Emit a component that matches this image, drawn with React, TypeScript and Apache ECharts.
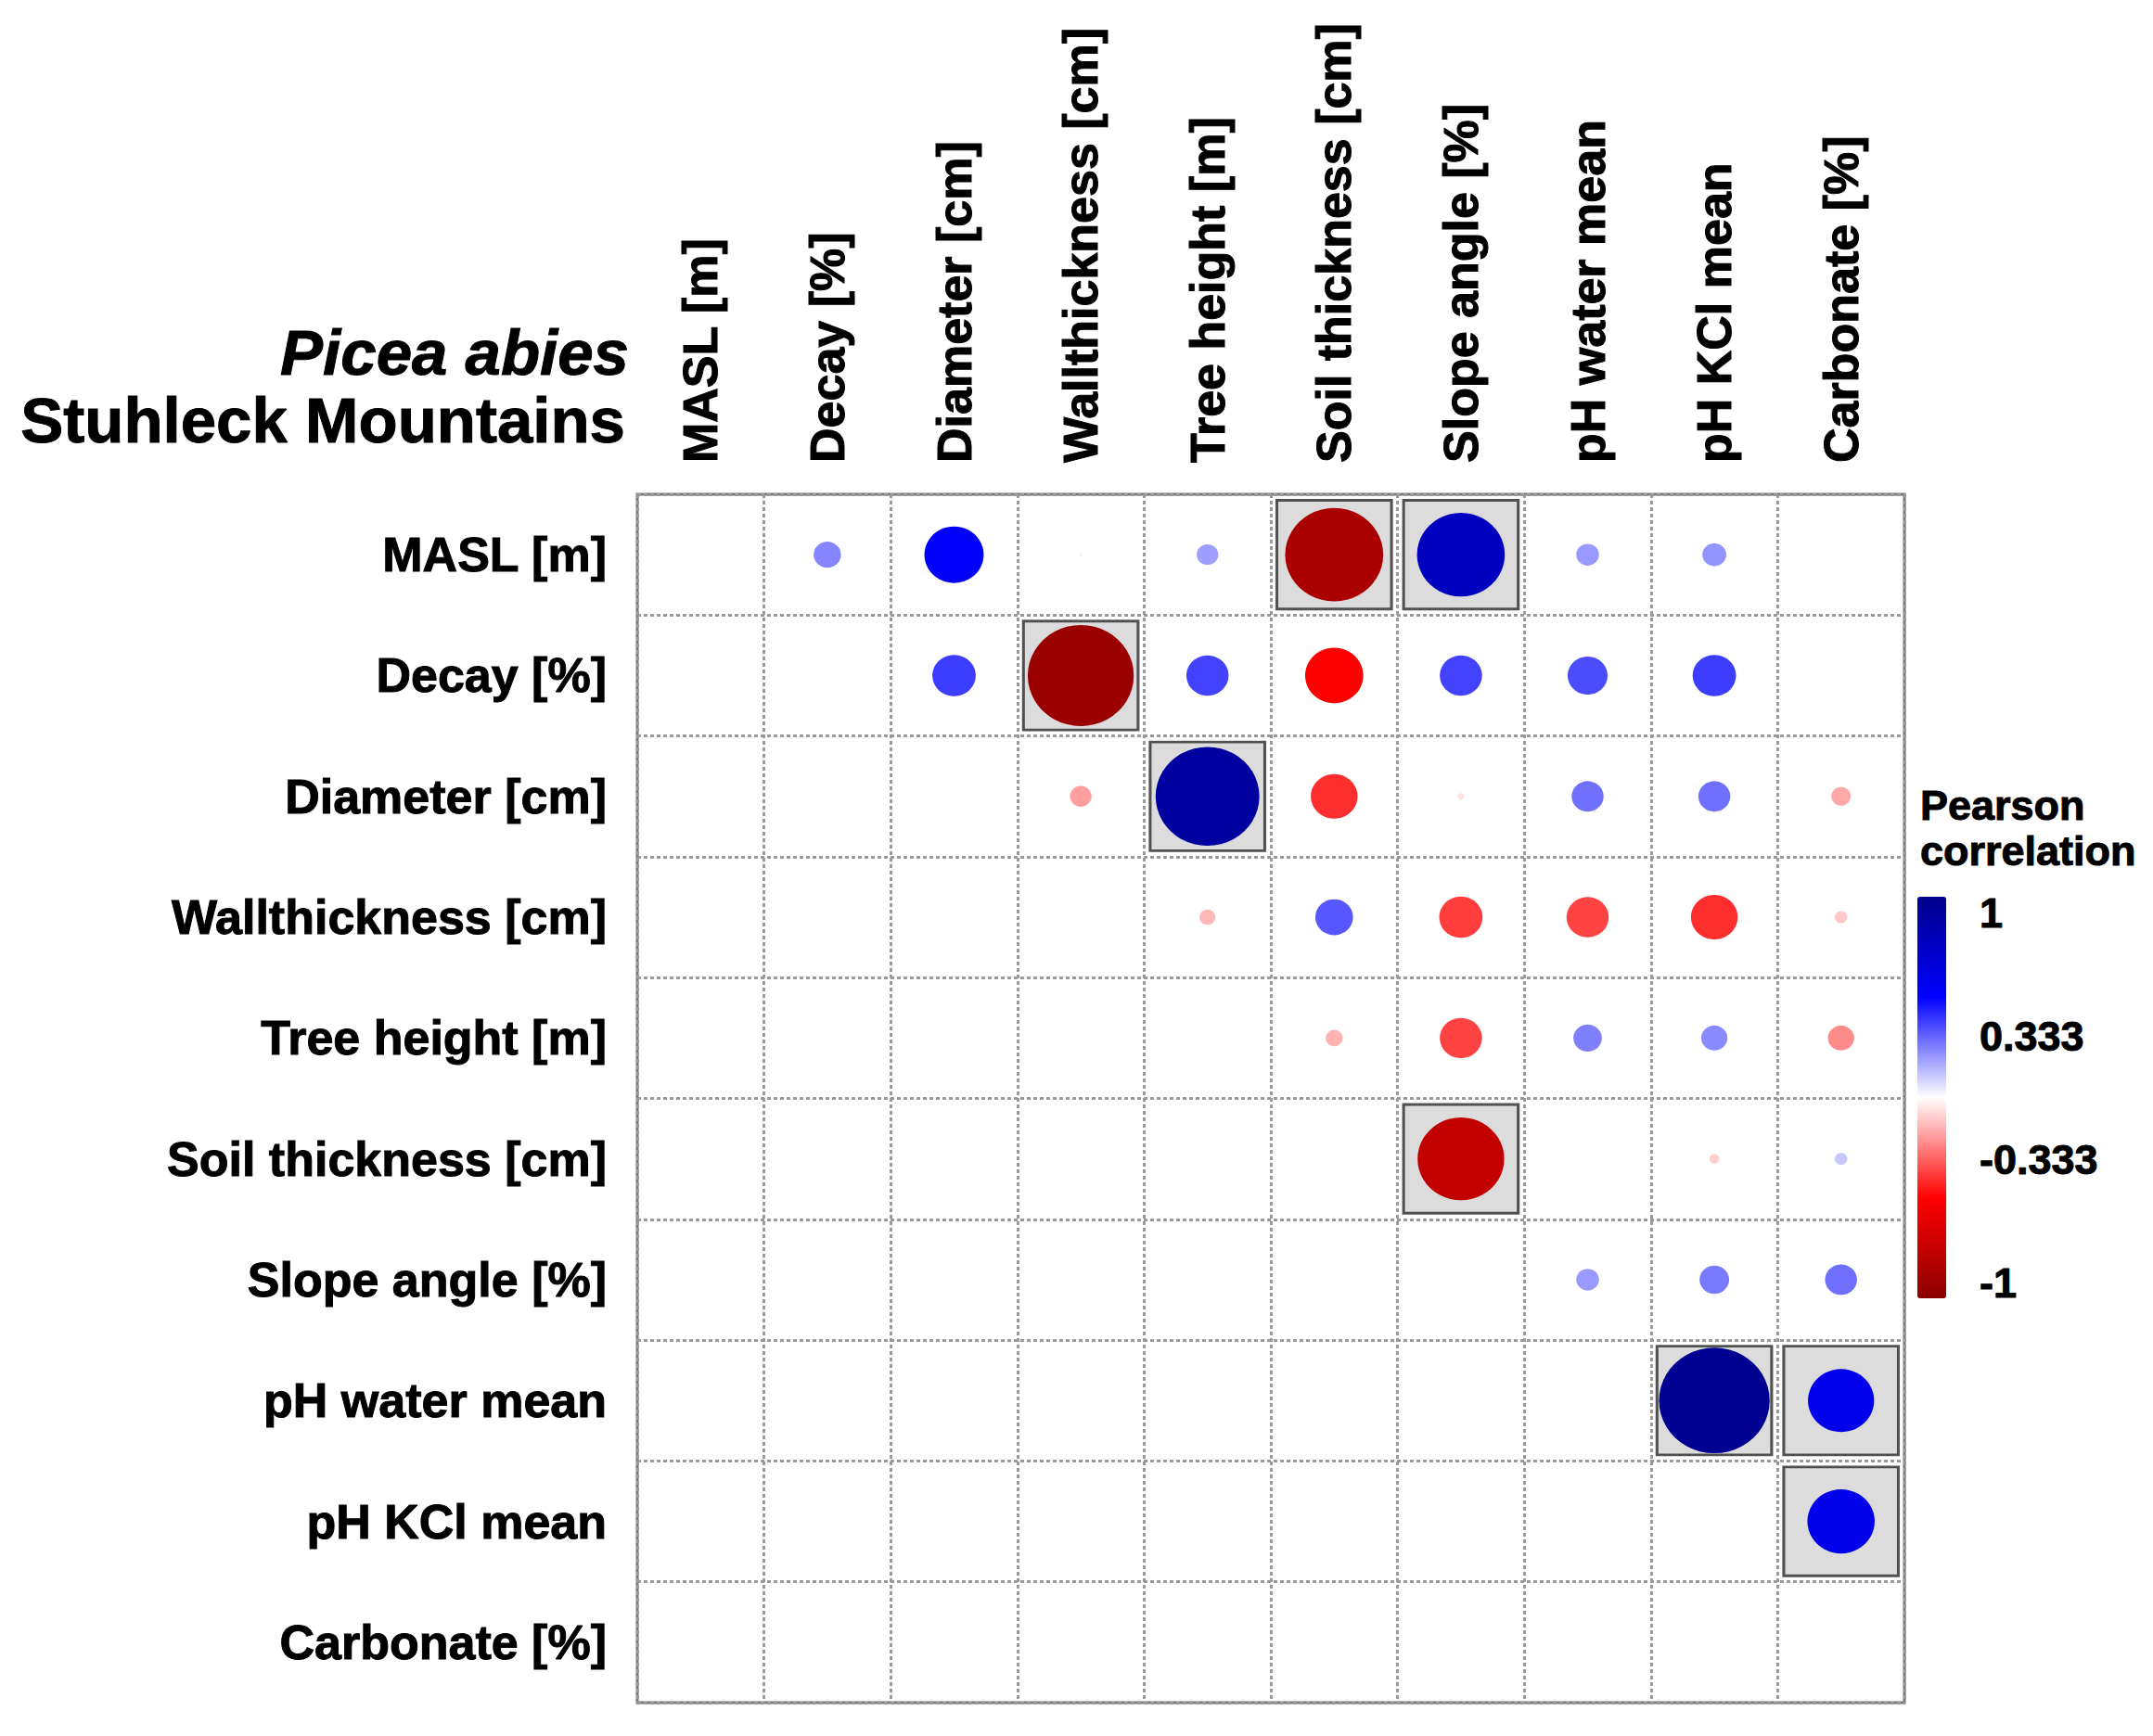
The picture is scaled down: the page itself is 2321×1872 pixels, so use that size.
import React, { useEffect, useRef } from 'react';
import * as echarts from 'echarts';

// ---- Data ----
const variables = [
  'MASL [m]',
  'Decay [%]',
  'Diameter [cm]',
  'Wallthickness [cm]',
  'Tree height [m]',
  'Soil thickness [cm]',
  'Slope angle [%]',
  'pH water mean',
  'pH KCl mean',
  'Carbonate [%]',
];

// Upper-triangle Pearson correlations: each row lists values for the columns to its right
const corrMASL = [0.24, 0.52, -0.03, 0.19, -0.86, 0.77, 0.2, 0.21, 0.01];
const corrDecay = [0.38, -0.93, 0.37, -0.51, 0.37, 0.35, 0.38, 0.01];
const corrDiameter = [-0.19, 0.91, -0.41, -0.06, 0.28, 0.28, -0.17];
const corrWall = [-0.14, 0.33, -0.38, -0.37, -0.41, -0.11];
const corrTree = [-0.15, -0.37, 0.25, 0.23, -0.23];
const corrSoil = [-0.76, -0.01, -0.09, 0.11];
const corrSlope = [0.2, 0.26, 0.28];
const corrPHWater = [0.97, 0.58];
const corrPHKCl = [0.59];
const corrRows = [corrMASL, corrDecay, corrDiameter, corrWall, corrTree, corrSoil, corrSlope, corrPHWater, corrPHKCl];

// Highlighted (boxed) cells: [row, column]
const highlightedPairs = [
  ['MASL [m]', 'Soil thickness [cm]'],
  ['MASL [m]', 'Slope angle [%]'],
  ['Decay [%]', 'Wallthickness [cm]'],
  ['Diameter [cm]', 'Tree height [m]'],
  ['Soil thickness [cm]', 'Slope angle [%]'],
  ['pH water mean', 'pH KCl mean'],
  ['pH water mean', 'Carbonate [%]'],
  ['pH KCl mean', 'Carbonate [%]'],
];

const colorbarTicks = ['1', '0.333', '-0.333', '-1'];
const titleSpecies = 'Picea abies';
const titleSite = 'Stuhleck Mountains';
const legendTitle = ['Pearson', 'correlation'];
const paletteColors = ['#8B0000', '#FF0000', '#FFFFFF', '#0000FF', '#00008B'];

// ---- Layout ----
const GRID = { left: 687, top: 533, width: 1366, height: 1303 };
const CELL_W = GRID.width / variables.length;
const CELL_H = GRID.height / variables.length;
const BAR = { left: 2067, top: 967, width: 31, height: 433 };
const FONT = "'Liberation Sans', Arial, Helvetica, sans-serif";

export default function App() {
  const ref = useRef<HTMLDivElement>(null);

  useEffect(() => {
    document.body.style.margin = '0';
    const chart = echarts.init(ref.current!, null, { renderer: 'svg' });

    const circles: any[] = [];
    corrRows.forEach((row, i) => {
      row.forEach((r, k) => {
        const j = i + 1 + k;
        circles.push([variables[j], variables[i], r]);
      });
    });
    const boxes = highlightedPairs.map(([rowName, colName]) => [colName, rowName]);

    const labelStyle = {
      fontSize: 52,
      fontWeight: 'bold',
      color: '#000',
      fontFamily: FONT,
      textBorderColor: '#000',
      textBorderWidth: 1,
      interval: 0,
    };
    const splitLine = {
      show: true,
      interval: 0,
      lineStyle: { color: '#999999', width: 3, type: [4, 3] },
    };

    const textStyle = (size: number) => ({
      fontSize: size,
      fontWeight: 'bold',
      fontFamily: FONT,
      fill: '#000',
      stroke: '#000',
      lineWidth: 1,
      verticalAlign: 'middle',
      textVerticalAlign: 'middle',
    });

    const tickGraphics = colorbarTicks.map((t, i) => ({
      type: 'text',
      x: 2134,
      y: BAR.top + 17 + (i * (BAR.height - 34)) / (colorbarTicks.length - 1),
      style: { ...textStyle(45), text: t, align: 'left', textAlign: 'left' },
    }));

    const legendGraphics = legendTitle.map((t, i) => ({
      type: 'text',
      x: 2070,
      y: 868 + i * 49,
      style: { ...textStyle(45), text: t, align: 'left', textAlign: 'left' },
    }));

    const titleGraphics = [
      {
        type: 'text',
        x: 678,
        y: 380,
        style: { ...textStyle(69), fontStyle: 'italic', text: titleSpecies, align: 'right', textAlign: 'right' },
      },
      {
        type: 'text',
        x: 674,
        y: 453,
        style: { ...textStyle(69), text: titleSite, align: 'right', textAlign: 'right' },
      },
    ];

    chart.setOption({
      animation: false,
      backgroundColor: '#ffffff',
      grid: {
        left: GRID.left,
        top: GRID.top,
        width: GRID.width,
        height: GRID.height,
        show: true,
        borderColor: '#7a7a7a',
        borderWidth: 3,
        backgroundColor: 'transparent',
      },
      xAxis: {
        type: 'category',
        data: variables,
        position: 'top',
        boundaryGap: true,
        axisLine: { show: false },
        axisTick: { show: false },
        axisLabel: { ...labelStyle, rotate: -90, margin: 34 },
        splitLine,
      },
      yAxis: {
        type: 'category',
        data: variables,
        inverse: true,
        boundaryGap: true,
        axisLine: { show: false },
        axisTick: { show: false },
        axisLabel: { ...labelStyle, margin: 33 },
        splitLine,
      },
      visualMap: {
        type: 'continuous',
        min: -1,
        max: 1,
        dimension: 2,
        seriesIndex: 1,
        calculable: false,
        hoverLink: false,
        orient: 'vertical',
        left: BAR.left,
        top: BAR.top,
        padding: 0,
        itemWidth: BAR.width,
        itemHeight: BAR.height,
        inRange: { color: paletteColors },
      },
      series: [
        {
          type: 'scatter',
          data: boxes,
          symbol: 'rect',
          symbolSize: [CELL_W - 13, CELL_H - 13],
          itemStyle: { color: '#d3d3d3', borderColor: '#2b2b2b', borderWidth: 3 },
          silent: true,
          z: 2,
        },
        {
          type: 'scatter',
          data: circles,
          symbol: 'circle',
          symbolSize: (v: any) => [0.9 * Math.abs(v[2]) * CELL_W, 0.9 * Math.abs(v[2]) * CELL_H],
          itemStyle: { opacity: 1 },
          silent: true,
          z: 3,
        },
      ],
      graphic: [...titleGraphics, ...legendGraphics, ...tickGraphics],
    });

    return () => chart.dispose();
  }, []);

  return <div ref={ref} style={{ width: 2321, height: 1872 }} />;
}
